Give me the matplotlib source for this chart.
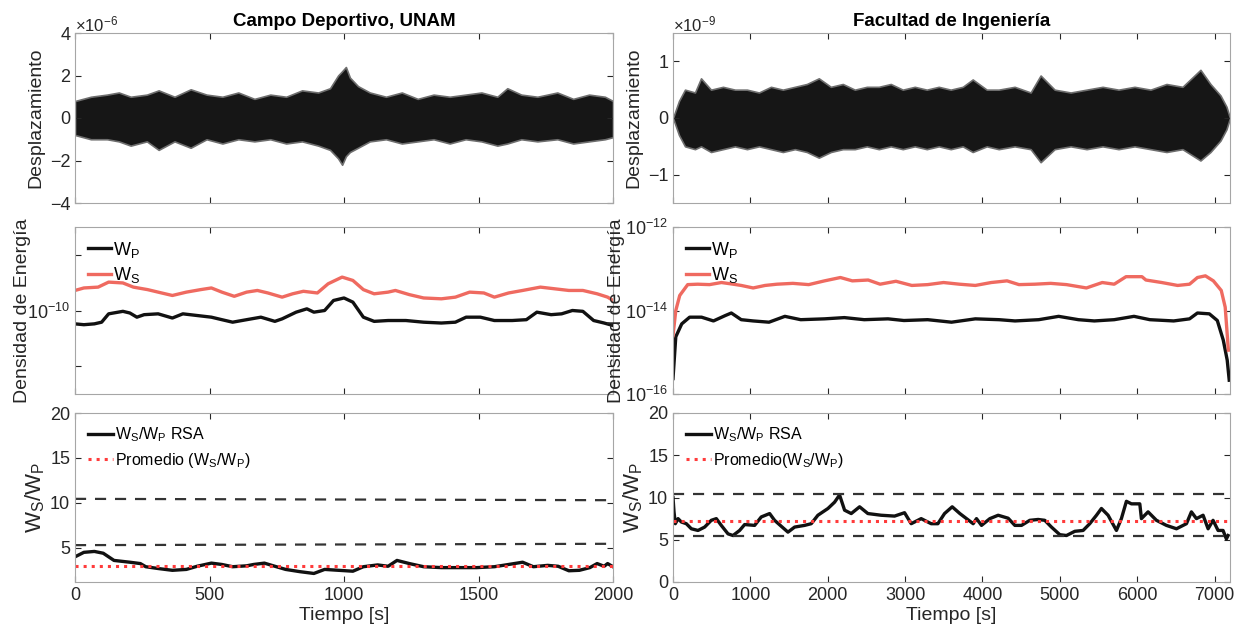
import matplotlib.pyplot as plt

plt.rcParams['font.family'] = ['Liberation Sans', 'DejaVu Sans']
plt.rcParams['mathtext.fontset'] = 'custom'
plt.rcParams['mathtext.rm'] = 'Liberation Sans'
plt.rcParams['mathtext.it'] = 'Liberation Sans'

# Campo Deportivo, UNAM -- desplazamiento (x1e-6), envolvente
t_d1 = [0, 59, 119, 163, 207, 267, 311, 370, 430, 489, 548, 607, 667, 726, 785, 844, 904, 948,
        978, 993, 1007, 1022, 1052, 1096, 1156, 1215, 1274, 1333, 1393, 1452, 1511, 1570, 1607,
        1659, 1719, 1793, 1852, 1911, 1970, 2000]
up_d1 = [0.8, 1.0, 1.1, 1.2, 1.0, 1.1, 1.3, 1.0, 1.35, 1.1, 1.0, 1.2, 0.9, 1.1, 1.0, 1.3, 1.2, 1.4,
         2.0, 2.2, 2.4, 1.9, 1.5, 1.2, 1.0, 1.2, 0.9, 1.1, 1.0, 1.1, 1.2, 1.0, 1.4,
         1.1, 1.0, 1.2, 0.9, 1.1, 1.0, 0.8]
lo_d1 = [-0.8, -1.0, -1.0, -1.1, -1.3, -1.1, -1.5, -1.1, -1.4, -1.0, -1.2, -1.0, -1.1, -1.0, -1.2, -1.1, -1.3, -1.5,
         -1.9, -2.2, -1.8, -1.6, -1.4, -1.1, -1.0, -1.2, -1.1, -1.0, -1.2, -1.0, -1.1, -1.3, -1.2,
         -1.0, -1.1, -1.0, -1.2, -1.1, -1.0, -0.9]

# Facultad de Ingenieria -- desplazamiento (x1e-9)
t_d2 = [0, 77, 155, 284, 362, 491, 646, 801, 956, 1111, 1266, 1420, 1575, 1730, 1885, 2040, 2195,
        2350, 2505, 2660, 2815, 2970, 3125, 3280, 3435, 3590, 3745, 3874, 4055, 4210, 4416, 4623,
        4752, 4933, 5140, 5346, 5553, 5759, 5966, 6173, 6379, 6586, 6818, 6947, 7076, 7154, 7200]
up_d2 = [0.0, 0.3, 0.5, 0.45, 0.7, 0.5, 0.55, 0.5, 0.5, 0.45, 0.55, 0.5, 0.55, 0.6, 0.7, 0.55, 0.6,
         0.5, 0.55, 0.55, 0.6, 0.5, 0.55, 0.5, 0.55, 0.5, 0.55, 0.68, 0.5, 0.5, 0.55, 0.45,
         0.75, 0.5, 0.45, 0.5, 0.55, 0.5, 0.55, 0.5, 0.6, 0.55, 0.85, 0.6, 0.4, 0.2, 0.0]
lo_d2 = [0.0, -0.3, -0.5, -0.55, -0.5, -0.6, -0.55, -0.5, -0.55, -0.5, -0.55, -0.6, -0.55, -0.6, -0.7, -0.6, -0.55,
         -0.55, -0.5, -0.55, -0.5, -0.55, -0.5, -0.55, -0.5, -0.55, -0.5, -0.6, -0.5, -0.55, -0.5, -0.55,
         -0.78, -0.55, -0.5, -0.55, -0.5, -0.55, -0.5, -0.55, -0.6, -0.55, -0.75, -0.6, -0.4, -0.2, 0.0]

# densidad de energia (log10)
t_ws1 = [0, 33, 86, 125, 178, 217, 270, 322, 362, 414, 467, 507, 546, 592, 638, 678, 717, 770, 809,
         849, 901, 941, 993, 1033, 1072, 1112, 1164, 1191, 1243, 1296, 1362, 1414, 1467, 1520, 1559,
         1612, 1664, 1730, 1783, 1836, 1888, 1941, 1980, 2000]
lws1 = [-9.76, -9.73, -9.72, -9.66, -9.67, -9.72, -9.75, -9.79, -9.82, -9.78, -9.75, -9.73, -9.78, -9.83,
        -9.78, -9.76, -9.79, -9.84, -9.80, -9.77, -9.79, -9.68, -9.60, -9.64, -9.75, -9.80, -9.78, -9.76,
        -9.81, -9.85, -9.86, -9.84, -9.78, -9.79, -9.84, -9.79, -9.76, -9.72, -9.74, -9.76, -9.76, -9.80,
        -9.84, -9.88]
t_wp1 = [0, 33, 72, 99, 125, 178, 204, 230, 257, 309, 362, 401, 454, 507, 546, 586, 638, 691, 743, 770,
         822, 862, 888, 928, 961, 1000, 1033, 1072, 1112, 1164, 1230, 1296, 1362, 1414, 1454, 1507, 1559,
         1625, 1678, 1717, 1770, 1809, 1849, 1888, 1928, 1967, 2000]
lwp1 = [-10.16, -10.17, -10.16, -10.14, -10.04, -10.01, -10.03, -10.08, -10.05, -10.04, -10.09, -10.04,
        -10.06, -10.08, -10.11, -10.14, -10.11, -10.08, -10.13, -10.10, -10.02, -9.98, -10.02, -10.00,
        -9.88, -9.85, -9.90, -10.08, -10.13, -10.12, -10.12, -10.14, -10.15, -10.14, -10.08, -10.08,
        -10.12, -10.12, -10.11, -10.02, -10.05, -10.04, -10.00, -10.01, -10.12, -10.15, -10.18]

t_ws2 = [0, 36, 87, 190, 318, 472, 626, 779, 882, 1036, 1190, 1344, 1549, 1754, 1959, 2164, 2318, 2523,
         2677, 2882, 3087, 3292, 3497, 3703, 3908, 4113, 4318, 4472, 4677, 4882, 5087, 5344, 5549, 5703,
         5856, 6062, 6113, 6318, 6523, 6677, 6779, 6882, 6985, 7087, 7138, 7179]
lws2 = [-14.6, -14.0, -13.64, -13.38, -13.37, -13.38, -13.33, -13.37, -13.40, -13.46, -13.40, -13.37,
        -13.35, -13.38, -13.29, -13.21, -13.29, -13.27, -13.37, -13.30, -13.40, -13.38, -13.33, -13.37,
        -13.40, -13.33, -13.29, -13.38, -13.37, -13.35, -13.38, -13.46, -13.33, -13.37, -13.19, -13.19,
        -13.27, -13.33, -13.40, -13.37, -13.21, -13.17, -13.29, -13.52, -13.92, -14.95]
t_wp2 = [0, 36, 113, 215, 369, 523, 677, 754, 882, 1036, 1241, 1446, 1651, 1959, 2215, 2472, 2779,
         2985, 3292, 3600, 3908, 4215, 4421, 4728, 4985, 5241, 5446, 5703, 5959, 6164, 6472, 6677,
         6779, 6933, 7036, 7113, 7164, 7190]
lwp2 = [-15.63, -14.63, -14.32, -14.16, -14.16, -14.25, -14.12, -14.06, -14.22, -14.25, -14.28, -14.14,
        -14.22, -14.20, -14.17, -14.22, -14.20, -14.24, -14.22, -14.28, -14.20, -14.22, -14.25, -14.22,
        -14.14, -14.22, -14.25, -14.22, -14.14, -14.22, -14.25, -14.20, -14.06, -14.08, -14.24, -14.71,
        -15.19, -15.67]

# cociente W_S/W_P
t_r1 = [0, 33, 72, 105, 125, 145, 204, 243, 263, 309, 362, 414, 454, 507, 546, 586, 638, 664, 704, 743,
        783, 836, 888, 928, 980, 1033, 1072, 1125, 1164, 1197, 1243, 1296, 1362, 1428, 1493, 1559, 1612,
        1664, 1704, 1757, 1796, 1836, 1875, 1914, 1941, 1967, 1980, 2000]
r1 = [4.0, 4.5, 4.6, 4.4, 4.0, 3.6, 3.4, 3.25, 2.9, 2.7, 2.5, 2.6, 2.95, 3.3, 3.15, 2.9, 3.0, 3.15, 3.3,
      2.95, 2.6, 2.35, 2.15, 2.6, 2.5, 2.4, 2.9, 3.1, 2.95, 3.6, 3.25, 2.9, 2.8, 2.8, 2.8, 2.9, 3.15,
      3.4, 2.9, 3.05, 2.95, 2.45, 2.5, 2.8, 3.25, 2.95, 3.25, 2.9]
t_r2 = [0, 13, 30, 65, 108, 172, 237, 323, 409, 495, 560, 624, 711, 775, 861, 926, 1055, 1141, 1249,
        1313, 1399, 1486, 1572, 1701, 1787, 1873, 2003, 2089, 2153, 2218, 2304, 2412, 2519, 2691, 2864,
        2993, 3079, 3208, 3337, 3424, 3510, 3609, 3708, 3794, 3880, 3923, 3988, 4096, 4203, 4332, 4419,
        4505, 4612, 4720, 4806, 4892, 5000, 5086, 5194, 5301, 5387, 5474, 5538, 5624, 5732, 5796, 5861,
        5926, 6034, 6055, 6141, 6249, 6378, 6508, 6637, 6701, 6766, 6852, 6917, 6981, 7046, 7110, 7153,
        7175]
r2 = [10.0, 8.3, 6.9, 7.5, 7.1, 6.9, 6.3, 6.1, 6.5, 7.3, 7.5, 6.7, 5.7, 5.5, 6.1, 6.8, 6.7, 7.7, 8.1,
      7.3, 6.6, 5.9, 6.5, 6.7, 6.9, 7.9, 8.7, 9.45, 10.3, 8.5, 8.1, 8.9, 8.1, 7.9, 7.8, 8.2, 6.9, 7.5,
      6.9, 6.9, 8.1, 8.9, 8.1, 7.5, 6.9, 7.5, 6.7, 7.5, 7.9, 7.55, 6.7, 6.7, 7.3, 7.4, 7.3, 6.5, 5.6,
      5.5, 6.0, 6.1, 6.9, 7.9, 8.7, 7.9, 6.1, 7.5, 9.55, 9.25, 9.25, 7.5, 8.3, 7.3, 6.7, 6.3, 6.9,
      8.3, 7.5, 7.9, 6.3, 7.3, 6.1, 6.1, 5.1, 5.5]

prom1, prom2 = 2.95, 7.2
lim1 = [[10.45, 10.3], [5.3, 5.45]]
lim2 = [[10.45, 10.45], [5.45, 5.45]]

xmax = [2000, 7200]
red = '#EF6A60'
ax_col = '#262626'

fig = plt.figure(figsize=(12.39, 6.34), dpi=100)
lefts = [75/1239, 673/1239]
widths = [538/1239, 557/1239]
rows = [(1-203/634, 170/634), (1-394/634, 167/634), (1-582/634, 169/634)]
axs = [[fig.add_axes([lefts[c], rows[r][0], widths[c], rows[r][1]]) for c in range(2)] for r in range(3)]

for r in range(3):
    for c in range(2):
        ax = axs[r][c]
        ax.set_xlim(0, xmax[c])
        ax.tick_params(direction='in', top=True, right=True, labelsize=13, colors=ax_col, length=4)
        for s in ax.spines.values():
            s.set_color('#a6a6a6')
        if c == 0:
            ax.set_xticks([0, 500, 1000, 1500, 2000])
        else:
            ax.set_xticks(range(0, 7001, 1000))
        if r < 2:
            ax.set_xticklabels([])

# fila 1: desplazamiento
ax = axs[0][0]
ax.fill_between(t_d1, lo_d1, up_d1, facecolor='#161616', edgecolor='#6e6e6e', lw=1.2)
ax.set_ylim(-4, 4)
ax.set_yticks([-4, -2, 0, 2, 4])
ax.set_ylabel('Desplazamiento', fontsize=14, color=ax_col)
ax.text(0, 1.01, r'$\times10^{-6}$', transform=ax.transAxes, fontsize=12, color=ax_col)
ax.set_title('Campo Deportivo, UNAM', fontsize=13.5, fontweight='bold', pad=5)

ax = axs[0][1]
ax.fill_between(t_d2, lo_d2, up_d2, facecolor='#161616', edgecolor='#6e6e6e', lw=1.2)
ax.set_ylim(-1.5, 1.5)
ax.set_yticks([-1, 0, 1])
ax.set_ylabel('Desplazamiento', fontsize=14, color=ax_col)
ax.text(0, 1.01, r'$\times10^{-9}$', transform=ax.transAxes, fontsize=12, color=ax_col)
ax.set_title('Facultad de Ingeniería', fontsize=13.5, fontweight='bold', pad=5)

# fila 2: densidad de energia
ax = axs[1][0]
ax.set_yscale('log')
ax.plot(t_wp1, [10**v for v in lwp1], color='#111111', lw=2.4, label=r'W$_\mathregular{P}$')
ax.plot(t_ws1, [10**v for v in lws1], color=red, lw=2.4, label=r'W$_\mathregular{S}$')
ax.set_ylim(1e-11, 1e-9)
ax.set_yticks([10**-10.667, 1e-10, 10**-9.333])
ax.set_yticklabels(['', r'$10^{-10}$', ''])
ax.minorticks_off()
ax.set_ylabel('Densidad de Energía', fontsize=14, color=ax_col, labelpad=-3)

ax = axs[1][1]
ax.set_yscale('log')
ax.plot(t_wp2, [10**v for v in lwp2], color='#111111', lw=2.4, label=r'W$_\mathregular{P}$')
ax.plot(t_ws2, [10**v for v in lws2], color=red, lw=2.4, label=r'W$_\mathregular{S}$')
ax.set_ylim(1e-16, 1e-12)
ax.set_yticks([1e-16, 1e-14, 1e-12])
ax.tick_params(which='minor', direction='in', right=True, length=2, colors='#a6a6a6')
ax.set_ylabel('Densidad de Energía', fontsize=14, color=ax_col, labelpad=0)

for ax in axs[1]:
    ax.legend(loc='upper left', frameon=False, fontsize=13, handlelength=1.3,
              handletextpad=0.1, borderaxespad=0.3, labelspacing=0.3)

# fila 3: cociente
ax = axs[2][0]
ax.plot(t_r1, r1, color='#111111', lw=2.4, label=r'W$_\mathregular{S}$/W$_\mathregular{P}$ RSA')
ax.plot([0, xmax[0]], [prom1, prom1], color='#ff3b3b', lw=2.2, ls=':',
        label=r'Promedio (W$_\mathregular{S}$/W$_\mathregular{P}$)')
for l in lim1:
    ax.plot([0, xmax[0]], l, color='#333333', lw=1.6, ls=(0, (5, 4)))
ax.set_ylim(1.2, 20)
ax.set_yticks([5, 10, 15, 20])

ax = axs[2][1]
ax.plot(t_r2, r2, color='#111111', lw=2.4, label=r'W$_\mathregular{S}$/W$_\mathregular{P}$ RSA')
ax.plot([0, xmax[1]], [prom2, prom2], color='#ff3b3b', lw=2.2, ls=':',
        label=r'Promedio(W$_\mathregular{S}$/W$_\mathregular{P}$)')
for l in lim2:
    ax.plot([0, xmax[1]], l, color='#333333', lw=1.6, ls=(0, (5, 4)))
ax.set_ylim(0, 20)
ax.set_yticks([0, 5, 10, 15, 20])

for ax in axs[2]:
    ax.set_ylabel(r'W$_\mathregular{S}$/W$_\mathregular{P}$', fontsize=16, color=ax_col, labelpad=2)
    ax.set_xlabel('Tiempo [s]', fontsize=14, color=ax_col, labelpad=2)
    ax.legend(loc='upper left', frameon=False, fontsize=11.5, handlelength=1.6,
              handletextpad=0.1, borderaxespad=0.4, labelspacing=0.4)

plt.savefig('out.png')
